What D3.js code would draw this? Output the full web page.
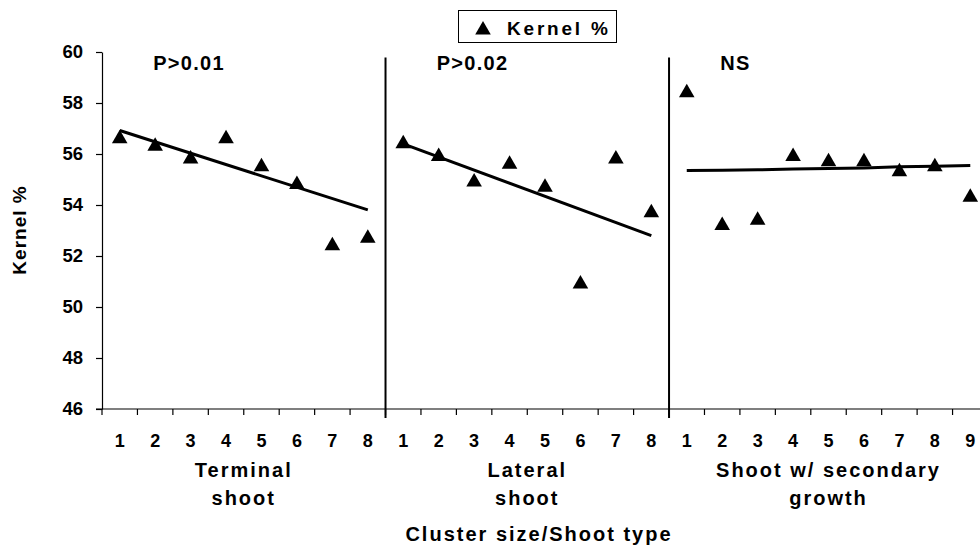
<!DOCTYPE html>
<html>
<head>
<meta charset="utf-8">
<script src="https://cdn.jsdelivr.net/npm/d3@7"></script>
<style>
  body { margin: 0; background: #fff; }
  svg text { font-family: "Liberation Sans", Arial, sans-serif; font-weight: bold; fill: #000; }
</style>
</head>
<body>
<svg id="chart"></svg>
<script>
// shoot types and the cluster sizes shown under each of them
const groupKeys = ["terminal", "lateral", "secondary"];
const groupLabels = [["Terminal", "shoot"], ["Lateral", "shoot"], ["Shoot w/ secondary", "growth"]];
const clusterSizes = [[1, 2, 3, 4, 5, 6, 7, 8], [1, 2, 3, 4, 5, 6, 7, 8], [1, 2, 3, 4, 5, 6, 7, 8, 9]];

// kernel % per cluster size
const terminalKernel = [56.6, 56.3, 55.8, 56.6, 55.5, 54.8, 52.4, 52.7];
const lateralKernel = [56.4, 55.9, 54.9, 55.6, 54.7, 50.9, 55.8, 53.7];
const secondaryKernel = [58.4, 53.2, 53.4, 55.9, 55.7, 55.7, 55.3, 55.5, 54.3];

// fitted lines as drawn
const terminalTrend = [{ size: 1, v: 56.92 }, { size: 8, v: 53.81 }];
const lateralTrend = [{ size: 1, v: 56.40 }, { size: 8, v: 52.80 }];
const secondaryTrend = [55.35, 55.36, 55.38, 55.41, 55.43, 55.45, 55.50, 55.52, 55.55];

const significance = ["P>0.01", "P>0.02", "NS"];
const yTicks = [46, 48, 50, 52, 54, 56, 58, 60];

const width = 980, height = 549;
const margin = { left: 102, top: 52, bottom: 409 };

const svg = d3.select("#chart")
    .attr("width", width)
    .attr("height", height);

const kernelByGroup = [terminalKernel, lateralKernel, secondaryKernel];
const cats = [];
groupKeys.forEach((g, gi) => {
    clusterSizes[gi].forEach((s, si) => {
        cats.push({ key: g + "-" + s, group: g, gi: gi, size: s, value: kernelByGroup[gi][si] });
    });
});

// band scale runs off the right edge like the original
const x = d3.scaleBand()
    .domain(cats.map(d => d.key))
    .range([margin.left, 988])
    .padding(0);

const y = d3.scaleLinear()
    .domain([46, 60])
    .range([margin.bottom, margin.top]);

const cx = key => x(key) + x.bandwidth() / 2;

// y axis
const yAxis = svg.append("g")
    .attr("transform", `translate(${margin.left},0)`)
    .call(d3.axisLeft(y).tickValues(yTicks).tickSize(6).tickSizeOuter(0).tickPadding(13));
yAxis.attr("font-family", null).attr("font-size", null);
yAxis.select(".domain").attr("stroke", "#000").attr("stroke-width", 1.2);
yAxis.selectAll(".tick line").attr("stroke", "#000").attr("stroke-width", 1.2);
yAxis.selectAll(".tick text")
    .attr("font-size", 18.5)
    .attr("font-weight", "bold")
    .attr("fill", "#000");

// x axis: line + ticks on band boundaries
svg.append("line")
    .attr("x1", margin.left - 6).attr("x2", width)
    .attr("y1", y(46)).attr("y2", y(46))
    .attr("stroke", "#000").attr("stroke-width", 1.2);

svg.append("g")
    .selectAll("line")
    .data(cats)
    .join("line")
    .attr("x1", d => x(d.key)).attr("x2", d => x(d.key))
    .attr("y1", y(46)).attr("y2", y(46) + 6)
    .attr("stroke", "#000").attr("stroke-width", 1.2);

svg.append("g")
    .selectAll("text")
    .data(cats)
    .join("text")
    .attr("x", d => cx(d.key))
    .attr("y", 447)
    .attr("text-anchor", "middle")
    .attr("font-size", 18)
    .text(d => d.size);

// group labels under the ticks
groupKeys.forEach((g, gi) => {
    const sizes = clusterSizes[gi];
    const first = g + "-" + sizes[0];
    const last = g + "-" + sizes[sizes.length - 1];
    const mid = (x(first) + x(last) + x.bandwidth()) / 2;
    groupLabels[gi].forEach((line, li) => {
        svg.append("text")
            .attr("x", mid)
            .attr("y", 477 + li * 28)
            .attr("text-anchor", "middle")
            .attr("font-size", 20)
            .attr("letter-spacing", 2)
            .text(line);
    });

    // significance note
    svg.append("text")
        .attr("x", cx(g + "-" + sizes[1]) - 2)
        .attr("y", 70)
        .attr("font-size", 20)
        .attr("letter-spacing", 1.3)
        .text(significance[gi]);

    // separator between shoot types
    if (gi > 0) {
        svg.append("line")
            .attr("x1", x(first)).attr("x2", x(first))
            .attr("y1", y(59.78)).attr("y2", y(46) + 9)
            .attr("stroke", "#000").attr("stroke-width", 2);
    }
});

// trend lines
const line = d3.line().x(d => cx(d.key)).y(d => y(d.v));
const trends = [
    terminalTrend.map(d => ({ key: "terminal-" + d.size, v: d.v })),
    lateralTrend.map(d => ({ key: "lateral-" + d.size, v: d.v })),
    secondaryTrend.map((v, i) => ({ key: "secondary-" + clusterSizes[2][i], v: v }))
];
svg.append("g")
    .selectAll("path")
    .data(trends)
    .join("path")
    .attr("d", line)
    .attr("fill", "none")
    .attr("stroke", "#000")
    .attr("stroke-width", 3);

// triangle markers
const tri = d3.symbol().type(d3.symbolTriangle).size(105);
svg.append("g")
    .selectAll("path")
    .data(cats)
    .join("path")
    .attr("d", tri)
    .attr("transform", d => `translate(${cx(d.key)},${y(d.value)})`)
    .attr("fill", "#000");

// legend
const legend = svg.append("g");
legend.append("rect")
    .attr("x", 458.5).attr("y", 10.5)
    .attr("width", 158).attr("height", 32)
    .attr("fill", "#fff").attr("stroke", "#000").attr("stroke-width", 1);
legend.append("path")
    .attr("d", tri)
    .attr("transform", "translate(483,30)")
    .attr("fill", "#000");
legend.append("text")
    .attr("x", 507).attr("y", 35)
    .attr("font-size", 19)
    .attr("letter-spacing", 2.8)
    .text("Kernel %");

// axis titles
svg.append("text")
    .attr("transform", "translate(26,230) rotate(-90)")
    .attr("text-anchor", "middle")
    .attr("font-size", 19)
    .attr("letter-spacing", 1)
    .text("Kernel %");

svg.append("text")
    .attr("x", 539)
    .attr("y", 541)
    .attr("text-anchor", "middle")
    .attr("font-size", 20)
    .attr("letter-spacing", 2)
    .text("Cluster size/Shoot type");
</script>
</body>
</html>
